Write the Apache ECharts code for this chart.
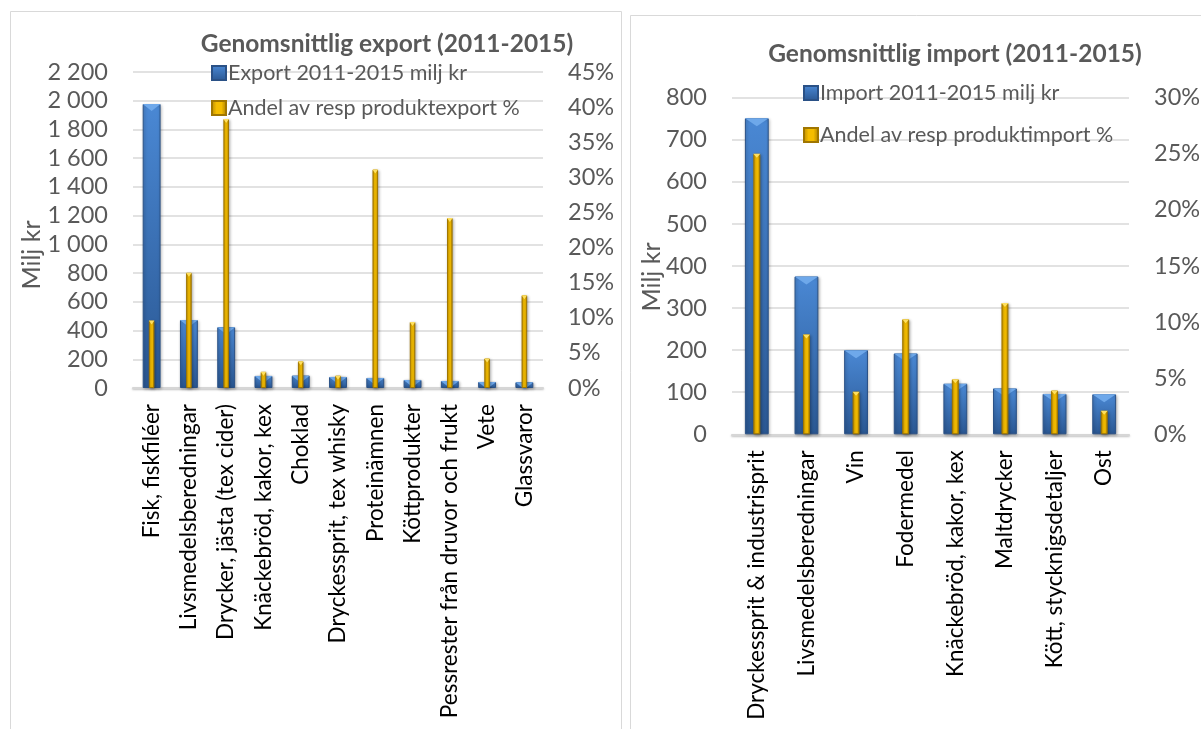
<!DOCTYPE html>
<html><head><meta charset="utf-8">
<script src="https://cdn.jsdelivr.net/npm/echarts@6/dist/echarts.min.js"></script>
<style>html,body{margin:0;padding:0;background:#fff}#c{width:1201px;height:729px}</style>
</head><body><div id="c"></div>
<script>
// ---- Data ----
const exportTitle = 'Genomsnittlig export (2011-2015)';
const importTitle = 'Genomsnittlig import (2011-2015)';
const exportCategories = ['Fisk, fiskfiléer', 'Livsmedelsberedningar', 'Drycker, jästa (tex cider)', 'Knäckebröd, kakor, kex', 'Choklad', 'Dryckessprit, tex whisky', 'Proteinämnen', 'Köttprodukter', 'Pessrester från druvor och frukt', 'Vete', 'Glassvaror'];
const exportValues = [1977, 473, 423, 84, 86, 77, 70, 56, 49, 42, 40];
const exportShare = [9.6, 16.4, 38.3, 2.3, 3.8, 1.75, 31.1, 9.4, 24.2, 4.2, 13.2];
const exportSeriesNames = ['Export 2011-2015 milj kr', 'Andel av resp produktexport %'];
const importCategories = ['Dryckessprit & industrisprit', 'Livsmedelsberedningar', 'Vin', 'Fodermedel', 'Knäckebröd, kakor, kex', 'Maltdrycker', 'Kött, stycknigsdetaljer', 'Ost'];
const importValues = [751, 375, 200, 192, 120, 109, 96, 95];
const importShare = [25.0, 8.9, 3.8, 10.25, 4.9, 11.7, 3.9, 2.1];
const importSeriesNames = ['Import 2011-2015 milj kr', 'Andel av resp produktimport %'];
const exportAxis = {max: 2200, interval: 200};
const exportPctAxis = {max: 45, interval: 5};
const importAxis = {max: 800, interval: 100};
const importPctAxis = {max: 30, interval: 5};
const yAxisName = 'Milj kr';

// ---- Styles ----
const FONT = 'Lato';
const TXT = '#595959';
const GRID = '#d9d9d9';
const G = echarts.graphic;
const blueFill = new G.LinearGradient(0, 0, 0, 1, [
  {offset: 0, color: '#4a88d4'}, {offset: 1, color: '#2a5792'}]);
const yellowFill = new G.LinearGradient(0, 0, 1, 0, [
  {offset: 0, color: '#b58700'}, {offset: 0.35, color: '#f5bd00'},
  {offset: 0.65, color: '#f5bd00'}, {offset: 1, color: '#a67b00'}]);
const fmtThousands = v => String(v).replace(/\B(?=(\d{3})+(?!\d))/g, ' ');

function catAxis(gridIndex, data, show) {
  return {
    type: 'category', gridIndex, data, show,
    axisTick: {show: false},
    axisLine: {show: show, lineStyle: {color: '#d6d6d6', width: 2, shadowColor: 'rgba(0,0,0,0.25)', shadowBlur: 2, shadowOffsetY: 1}},
    axisLabel: {rotate: 90, margin: 16, fontFamily: FONT, fontSize: 22.5, color: '#000', interval: 0}
  };
}
function valAxis(gridIndex, ax, fmt, grid) {
  return {
    type: 'value', gridIndex, min: 0, max: ax.max, interval: ax.interval,
    axisLine: {show: false}, axisTick: {show: false},
    splitLine: {show: grid, lineStyle: {color: GRID, width: 1.5}},
    axisLabel: {formatter: fmt, margin: 25, fontFamily: FONT, fontSize: 23.5, color: TXT}
  };
}
function barSeries(name, xi, yi, data, fill, width, border) {
  return {
    type: 'bar', name, xAxisIndex: xi, yAxisIndex: yi, data, barWidth: width,
    itemStyle: {color: fill, borderColor: border, borderWidth: 1,
      shadowColor: 'rgba(0,0,0,0.3)', shadowBlur: 3, shadowOffsetX: 1, shadowOffsetY: 1},
    emphasis: {disabled: true}, z: yi % 2 ? 3 : 2
  };
}
function bevelSeries(xi, yi, data, width, h, color, z) {
  return {
    type: 'pictorialBar', xAxisIndex: xi, yAxisIndex: yi, data,
    barWidth: width, symbol: 'path://M0,0 L10,0 L5,10 Z', symbolRepeat: false,
    symbolSize: ['100%', h], symbolPosition: 'end', symbolOffset: [0, 0],
    itemStyle: {color}, z, silent: true, legendHoverLink: false
  };
}
function legend(names, left, top, gap) {
  return {
    data: names, orient: 'vertical', left, top, itemWidth: 14, itemHeight: 14, itemGap: gap,
    icon: 'rect', selectedMode: false,
    textStyle: {fontFamily: FONT, fontSize: 21.5, color: TXT, lineHeight: 22, padding: [0, 0, 0, -3]}
  };
}

const chart = echarts.init(document.getElementById('c'));
chart.setOption({
  backgroundColor: '#fff',
  animation: false,
  title: [
    {text: exportTitle, left: 382, top: 27, textAlign: 'center',
     textStyle: {fontFamily: FONT, fontWeight: 'bold', fontSize: 24.5, color: TXT}},
    {text: importTitle, left: 950, top: 37, textAlign: 'center',
     textStyle: {fontFamily: FONT, fontWeight: 'bold', fontSize: 24.5, color: TXT}}
  ],
  legend: [legend(exportSeriesNames, 206, 57, 13), legend(importSeriesNames, 798, 77, 20)],
  grid: [
    {left: 133, top: 72, width: 410, height: 316, containLabel: false, outerBoundsMode: 'none'},
    {left: 732, top: 97.7, width: 397, height: 336.6, containLabel: false, outerBoundsMode: 'none'}
  ],
  xAxis: [
    catAxis(0, exportCategories, true), catAxis(0, exportCategories, false),
    catAxis(1, importCategories, true), catAxis(1, importCategories, false)
  ],
  yAxis: [
    valAxis(0, exportAxis, fmtThousands, true), valAxis(0, exportPctAxis, v => v + '%', false),
    valAxis(1, importAxis, fmtThousands, true), valAxis(1, importPctAxis, v => v + '%', false)
  ],
  series: [
    barSeries(exportSeriesNames[0], 0, 0, exportValues, blueFill, '48%', '#2a5186'),
    bevelSeries(0, 0, exportValues, '48%', 7, '#6ea8ea', 2.5),
    barSeries(exportSeriesNames[1], 1, 1, exportShare, yellowFill, '15%', '#a07600'),
    bevelSeries(1, 1, exportShare, '15%', 4, '#ffe060', 3.5),
    barSeries(importSeriesNames[0], 2, 2, importValues, blueFill, '48%', '#2a5186'),
    bevelSeries(2, 2, importValues, '48%', 8, '#6ea8ea', 2.5),
    barSeries(importSeriesNames[1], 3, 3, importShare, yellowFill, '14%', '#a07600'),
    bevelSeries(3, 3, importShare, '14%', 4, '#ffe060', 3.5)
  ],
  graphic: [
    {type: 'rect', shape: {x: 10.5, y: 11.5, width: 611, height: 740}, style: {fill: 'none', stroke: '#d9d9d9', lineWidth: 1}, z: -1, silent: true},
    {type: 'rect', shape: {x: 630.5, y: 15.5, width: 590, height: 740}, style: {fill: 'none', stroke: '#d9d9d9', lineWidth: 1}, z: -1, silent: true},
    {type: 'text', x: 32, y: 255, rotation: Math.PI / 2, style: {text: yAxisName, fontFamily: FONT, fontSize: 25, fill: TXT, textAlign: 'center', textVerticalAlign: 'middle'}},
    {type: 'text', x: 652, y: 277, rotation: Math.PI / 2, style: {text: yAxisName, fontFamily: FONT, fontSize: 25, fill: TXT, textAlign: 'center', textVerticalAlign: 'middle'}}
  ]
});
</script></body></html>
